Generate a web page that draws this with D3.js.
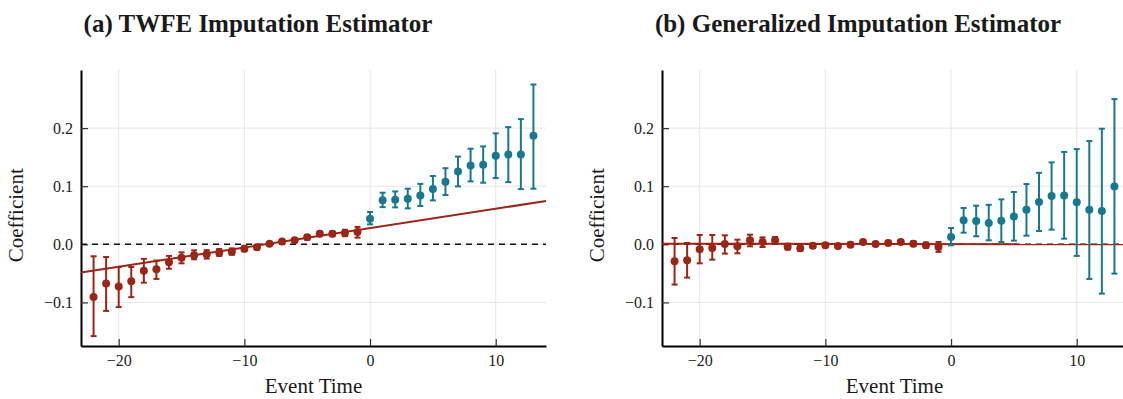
<!DOCTYPE html>
<html>
<head>
<meta charset="utf-8">
<script src="https://cdn.jsdelivr.net/npm/d3@7"></script>
<style>
  body { margin: 0; background: #fff; }
  svg { display: block; }
</style>
</head>
<body>
<svg id="chart" width="1123" height="399"></svg>
<script>
// event times
let preTimes = [-22, -21, -20, -19, -18, -17, -16, -15, -14, -13, -12, -11, -10, -9, -8, -7, -6, -5, -4, -3, -2, -1];
let postTimes = [0, 1, 2, 3, 4, 5, 6, 7, 8, 9, 10, 11, 12, 13];

// (a) TWFE imputation
let twfePre = [-0.0905, -0.0676, -0.0728, -0.0636, -0.0453, -0.043, -0.031, -0.023, -0.019, -0.017, -0.0143, -0.0126, -0.0075, -0.005, 0.001, 0.005, 0.007, 0.012, 0.018, 0.018, 0.0195, 0.021];
let twfePreLo = [-0.158, -0.1146, -0.108, -0.091, -0.066, -0.0596, -0.042, -0.0327, -0.0258, -0.0246, -0.020, -0.018, -0.012, -0.009, -0.002, 0.002, 0.004, 0.008, 0.014, 0.014, 0.014, 0.0115];
let twfePreHi = [-0.0206, -0.0218, -0.039, -0.039, -0.025, -0.028, -0.020, -0.0138, -0.0103, -0.010, -0.008, -0.007, -0.003, -0.001, 0.004, 0.008, 0.010, 0.016, 0.022, 0.022, 0.025, 0.030];
let twfePost = [0.044, 0.076, 0.0768, 0.0785, 0.084, 0.095, 0.1077, 0.1255, 0.1358, 0.137, 0.1524, 0.1547, 0.1547, 0.1868];
let twfePostLo = [0.0344, 0.064, 0.0636, 0.0619, 0.066, 0.0756, 0.0848, 0.0997, 0.1083, 0.106, 0.114, 0.107, 0.095, 0.0957];
let twfePostHi = [0.0556, 0.0888, 0.091, 0.0957, 0.104, 0.1175, 0.131, 0.151, 0.1645, 0.1685, 0.191, 0.2017, 0.2155, 0.275];
let twfeTrend = [[-23, -0.0487], [14, 0.0745]];

// (b) generalized imputation
let genPre = [-0.0292, -0.0275, -0.0086, -0.0063, 0.0006, -0.0034, 0.0069, 0.004, 0.0069, -0.004, -0.0069, -0.0023, -0.0017, -0.003, -0.0006, 0.004, 0.0006, 0.0023, 0.004, 0.0011, -0.0017, -0.0046];
let genPreLo = [-0.0693, -0.0573, -0.0327, -0.0264, -0.016, -0.0155, -0.0034, -0.0046, 0.001, -0.009, -0.011, -0.006, -0.005, -0.006, -0.004, 0.001, -0.003, -0.001, 0.001, -0.003, -0.006, -0.013];
let genPreHi = [0.0109, 0.0023, 0.016, 0.016, 0.0155, 0.008, 0.0166, 0.012, 0.0126, 0.001, -0.002, 0.001, 0.002, 0.000, 0.003, 0.007, 0.004, 0.006, 0.007, 0.005, 0.003, 0.004];
let genPost = [0.0126, 0.0413, 0.040, 0.0367, 0.0407, 0.048, 0.0596, 0.0728, 0.0831, 0.0842, 0.0722, 0.0596, 0.0573, 0.0997];
let genPostLo = [-0.0017, 0.020, 0.0138, 0.0069, 0.004, 0.0063, 0.0149, 0.0229, 0.0252, 0.0097, -0.020, -0.0596, -0.0848, -0.0504];
let genPostHi = [0.028, 0.0625, 0.0665, 0.068, 0.0774, 0.09, 0.1037, 0.123, 0.141, 0.159, 0.1639, 0.1777, 0.1989, 0.2499];
let genTrend = [[-23, 0.001], [14, 0.0]];

let xTicks = [-20, -10, 0, 10];
let yTicks = [-0.1, 0.0, 0.1, 0.2];

let redColor = "#9a2617";
let tealColor = "#18788f";
let gridColor = "#e6e6e6";
let fontFamily = "'Liberation Serif', 'DejaVu Serif', serif";

let svg = d3.select("#chart");

function drawPanel(left, title, titleX, pre, preLo, preHi, post, postLo, postHi, trend) {
  let top = 70, bottom = 346, width = 465;

  let x = d3.scaleLinear().domain([-23, 14]).range([left, left + width]);
  let y = d3.scaleLinear().domain([-0.175, 0.3]).range([bottom, top]);

  let g = svg.append("g");

  // grid lines
  g.selectAll(".vgrid").data(xTicks).enter().append("line")
    .attr("x1", d => x(d)).attr("x2", d => x(d))
    .attr("y1", top).attr("y2", bottom)
    .style("stroke", gridColor).style("stroke-width", 1);
  g.selectAll(".hgrid").data(yTicks).enter().append("line")
    .attr("x1", left).attr("x2", left + width)
    .attr("y1", d => y(d)).attr("y2", d => y(d))
    .style("stroke", gridColor).style("stroke-width", 1);

  // axes with inward ticks
  let xAxis = d3.axisBottom(x).tickValues(xTicks).tickSizeInner(-7).tickSizeOuter(0)
    .tickPadding(9).tickFormat(d => d < 0 ? "\u2212" + Math.abs(d) : d);
  let yAxis = d3.axisLeft(y).tickValues(yTicks).tickSizeInner(-7).tickSizeOuter(0)
    .tickPadding(8).tickFormat(d => d < 0 ? "\u2212" + Math.abs(d).toFixed(1) : d.toFixed(1));

  let gx = g.append("g").attr("transform", "translate(0," + bottom + ")").call(xAxis);
  let gy = g.append("g").attr("transform", "translate(" + left + ",0)").call(yAxis);
  [gx, gy].forEach(a => {
    a.select(".domain").style("stroke", "#000").style("stroke-width", 2);
    a.selectAll(".tick line").style("stroke", "#333").style("stroke-width", 1.2);
    a.selectAll(".tick text").style("font-family", fontFamily).style("font-size", "16px").style("fill", "#222");
  });

  // zero reference
  g.append("line")
    .attr("x1", left).attr("x2", left + width)
    .attr("y1", y(0)).attr("y2", y(0))
    .style("stroke", "#111").style("stroke-width", 1.6)
    .style("stroke-dasharray", "6,5");

  // trend line
  g.append("path")
    .datum(trend)
    .attr("d", d3.line().x(d => x(d[0])).y(d => y(d[1])))
    .style("fill", "none").style("stroke", redColor).style("stroke-width", 2);

  function drawSeries(times, est, lo, hi, color) {
    let cap = 3;
    times.forEach((t, i) => {
      g.append("line")
        .attr("x1", x(t)).attr("x2", x(t))
        .attr("y1", y(lo[i])).attr("y2", y(hi[i]))
        .style("stroke", color).style("stroke-width", 2);
      [lo[i], hi[i]].forEach(v => {
        g.append("line")
          .attr("x1", x(t) - cap).attr("x2", x(t) + cap)
          .attr("y1", y(v)).attr("y2", y(v))
          .style("stroke", color).style("stroke-width", 2);
      });
    });
    g.selectAll(".pt").data(times).enter().append("circle")
      .attr("cx", d => x(d))
      .attr("cy", (d, i) => y(est[i]))
      .attr("r", 4)
      .style("fill", color);
  }

  drawSeries(preTimes, pre, preLo, preHi, redColor);
  drawSeries(postTimes, post, postLo, postHi, tealColor);

  // labels
  svg.append("text")
    .attr("x", titleX).attr("y", 32)
    .text(title)
    .style("text-anchor", "middle")
    .style("font-family", fontFamily)
    .style("font-weight", "bold")
    .style("font-size", "25px")
    .style("fill", "#1a1a1a");

  svg.append("text")
    .attr("x", left + width / 2).attr("y", 393)
    .text("Event Time")
    .style("text-anchor", "middle")
    .style("font-family", fontFamily)
    .style("font-size", "21px")
    .style("fill", "#1a1a1a");

  svg.append("text")
    .attr("transform", "translate(" + (left - 58) + "," + y(0.05) + ") rotate(-90)")
    .text("Coefficient")
    .style("text-anchor", "middle")
    .style("font-family", fontFamily)
    .style("font-size", "21px")
    .style("fill", "#1a1a1a");
}

drawPanel(81, "(a) TWFE Imputation Estimator", 258,
  twfePre, twfePreLo, twfePreHi, twfePost, twfePostLo, twfePostHi, twfeTrend);
drawPanel(662, "(b) Generalized Imputation Estimator", 858,
  genPre, genPreLo, genPreHi, genPost, genPostLo, genPostHi, genTrend);
</script>
</body>
</html>
